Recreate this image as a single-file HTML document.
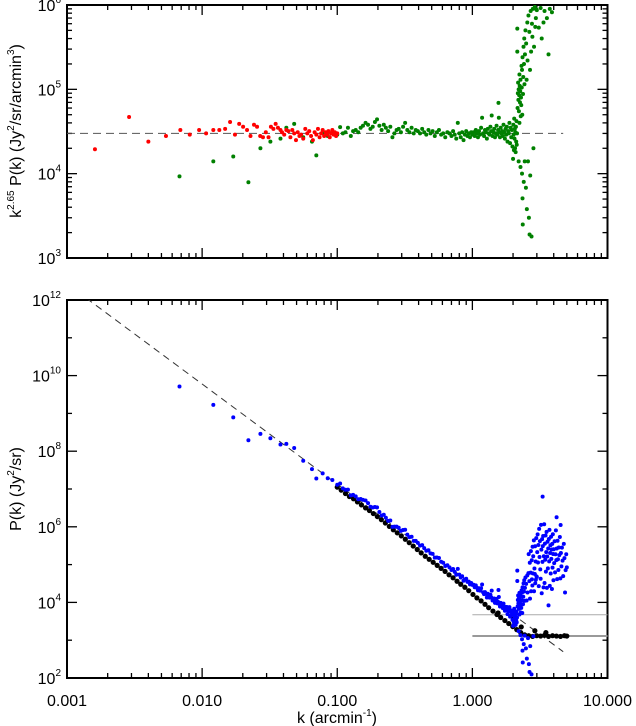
<!DOCTYPE html>
<html><head><meta charset="utf-8">
<style>
html,body{margin:0;padding:0;background:#fff;}
svg{display:block;font-family:"Liberation Sans",Arial,sans-serif;}
</style></head>
<body>
<svg id="chart" width="636" height="726" viewBox="0 0 636 726" xmlns="http://www.w3.org/2000/svg">
</svg>
<script>
// ---------------- DATA ----------------
// red series (top panel), k in arcmin^-1, value in units of 1000 Jy^2/sr/arcmin^3
const redK = [0.00161,0.00288,0.0040,0.0054,0.0069,0.0081,0.0095,0.0107,0.0121,0.0134,0.0148,0.0161,0.0175,0.0188,0.0201,0.0215,0.0228,0.0242,0.0255,0.0269,0.0282,0.0296,0.031,0.0323,0.0337,0.035,0.0364,0.038,0.039,0.0405,0.042,0.0435,0.045,0.0465,0.048,0.0495,0.051,0.0525,0.054,0.056,0.058,0.06,0.062,0.064,0.066,0.068,0.07,0.072,0.074,0.076,0.078,0.08,0.082,0.084,0.086,0.088,0.09,0.092,0.094,0.096,0.098,0.1];
const redV = [19.5,47,24,28,33,29,33,30,33,33,34,41,29,39,36,33,28,38,36,28,27,31,27,36,34,39,35,33,31,29,33,32,27,33,30,25,31,28,29,26,34,30,32,28,25,31,29,34,27,30,33,28,31,29,32,27,30,33,29,31,28,30];
// green series (top panel) / blue (bottom panel = green / k^2.65)
const greenK = [0.0068,0.0121,0.017,0.022,0.027,0.032,0.038,0.042,0.048,0.056,0.065,0.07,0.078,0.085,0.092,0.1,
0.105,0.11,0.115,0.12,0.126,0.131,0.137,0.143,0.149,0.155,0.162,0.169,0.176,0.183,0.19,0.197,0.205,0.213,0.221,0.229,0.238,0.247,0.256,0.265,0.275,0.285,0.296,0.307,0.318,0.33,0.342,0.355,0.368,0.381,0.395,0.41,0.425,0.44,0.456,0.473,0.49,0.508,0.527,0.546,0.566,0.587,0.608,0.63,0.653,0.677,0.7,0.72,0.74,0.76,0.78,0.8,0.82,0.84,0.86,0.88,0.9,0.92,0.94,0.96,0.98,1.0,
1.02,1.04,1.06,1.08,1.10,1.12,1.14,1.16,1.18,1.2,1.22,1.24,1.26,1.28,1.3,1.32,1.34,1.36,1.38,1.39,1.41,1.43,1.45,1.47,1.49,1.51,1.53,1.55,1.56,1.57,1.58,1.6,1.62,1.64,1.66,1.68,1.7,1.72,1.74,1.76,1.78,1.8,1.82,1.84,1.86,1.88,1.9,1.92,1.94,1.96,1.98,2.0,2.01,2.02,2.03,2.04,2.05,2.06,2.07,2.08,2.09,2.1,2.11,2.12,2.13,2.14,
2.15,2.15,2.16,2.17,2.18,2.19,2.2,2.2,2.21,2.22,2.23,2.23,2.24,2.25,2.26,2.27,2.27,2.28,2.29,2.3,2.31,2.32,2.33,2.33,2.34,2.35,2.35,2.36,2.37,2.38,2.39,2.4,2.41,2.42,2.43,2.44,2.45,
2.47,2.49,2.5,2.52,2.53,2.55,2.56,2.58,2.6,2.61,2.62,2.64,2.65,2.66,2.67,2.68,2.7,2.71,2.72,2.74,2.75,2.76,2.78,2.79,2.8,2.82,2.83,2.85,2.86,2.88,2.9,2.91,2.92,2.94,2.95,2.97,2.98,
3.0,3.02,3.04,3.06,3.08,3.1,3.12,3.14,3.16,3.18,3.2,3.22,3.24,3.26,3.28,3.3,3.31,3.32,3.34,3.36,3.38,3.4,3.42,3.44,3.46,3.48,3.5,3.52,3.54,3.56,3.58,3.6,3.62,3.64,3.66,3.68,3.7,3.72,3.74,3.76,3.78,3.8,3.82,3.84,3.86,3.88,3.9,3.92,3.94,3.96,3.98,4.0,4.03,4.06,4.09,4.12,4.15,4.18,4.2,4.21,4.24,4.27,4.3,4.33,4.36,4.4,4.44,4.48,4.5,4.52,4.56,4.6,4.65,4.7,4.75,4.8,4.85,4.9,4.95,5.0];
const greenV = [9.3,14,16,7.9,20,24,26,35,39,27,24,16.5,30,28,31,29,
35.6,30,31,35,28,32,33,31,35,37,40,38,34,36,41,44,37,33,38,35,32,36,27,30,33,34,31,36,40,33,31,35,30,33,32,30,34,31,29,33,30,32,28,31,33,29,30,27,31,30,28,32,29,26,40,30,27,31,25,29,32,28,30,27,31,29,
31,28,33,30,27,32,29,35,46,30,28,33,31,26,34,30,29,36,32,49,28,31,34,27,30,37,29,33,69,46,31,27,35,30,32,28,38,31,26,34,29,36,24,32,30,40,23,35,27,33,21,15,38,29,19,45,26,34,20,31,18,36,24,42,22,30,
525,280,60,90,120,75,100,14,55,85,150,40,110,70,95,130,12,48,80,65,190,105,170,10,50,5.1,240,2.5,88,140,320,8,200,400,115,14,260,
500,6.8,350,130,3.8,620,220,14,750,2400,3.0,480,1.9,1500,170,9.5,850,3200,280,1.8,1900,600,420,4500,900,2600,20,7000,320,1300,950,5200,550,2100,700,9000,880,
870,4000,12000,2200,6500,540,18000,3300,8800,1600,920,25000,5600,400,11000,2800,150000,7400,14000,620,4200,30000,850,9500,3600,16000,1800,6000,21000,700,4800,12000,2400,8200,260,15000,3900,27000,900,6800,11000,2000,19000,5000,9000,820,13000,3100,24000,7300,1500,10000,4400,17000,2600,8000,35000,5800,80000,12000,1900,20000,6600,3500,14000,9000,28000,2300,60000,11000,5000,16000,7500,3000,22000,9500,1200,4800,13000,6000];
// black series (bottom panel), log10 P(k) [Jy^2/sr]
const blackK = [0.10,0.107,0.115,0.123,0.132,0.141,0.151,0.162,0.173,0.185,0.198,0.212,0.227,0.243,0.26,0.278,0.298,0.319,0.341,0.365,0.391,0.418,0.448,0.479,0.513,0.549,0.587,0.628,0.672,0.72,0.77,0.82,0.88,0.94,1.01,1.08,1.16,1.24,1.32,1.42,1.52,1.62,1.74,1.86,1.99,2.13,2.28,2.44,2.61,2.79,2.99,3.2,3.42,3.66,3.92,4.19,4.49,4.8,5.0,1.55,1.98,2.05,2.3,2.9,3.5];
const blackLogP = [7.05,6.97,6.88,6.80,6.74,6.66,6.58,6.50,6.43,6.35,6.27,6.19,6.10,6.01,5.92,5.84,5.76,5.67,5.58,5.49,5.40,5.31,5.22,5.14,5.06,4.98,4.90,4.82,4.73,4.65,4.56,4.48,4.40,4.31,4.21,4.12,4.04,3.95,3.86,3.77,3.68,3.60,3.52,3.44,3.36,3.28,3.20,3.14,3.12,3.10,3.12,3.11,3.13,3.10,3.12,3.11,3.10,3.12,3.11,3.72,3.63,3.55,3.35,3.25,3.2];
// fit: k^2.65 P(k) = 3.0e4 ; horizontal reference levels
const fitAmp = 3.0e4;
const fitSlope = 2.65;
const fitKRange = [0.001, 4.7];
const refLevels = [4700, 1290];
const xTickLabels = ["0.001","0.010","0.100","1.000","10.000"];
const topYExps = [3,4,5,6];
const botYExps = [2,4,6,8,10,12];

// ---------------- AXES ----------------
const X0=67, X1=607.5;
const TOP={y0:5,y1:258,lo:3,hi:6};
const BOT={y0:300,y1:678,lo:2,hi:12};
function xs(k){return X0+(Math.log10(k)+3)/4*(X1-X0);}
function ysTop(v){return TOP.y1-(Math.log10(v)-TOP.lo)/(TOP.hi-TOP.lo)*(TOP.y1-TOP.y0);}
function ysBot(v){return BOT.y1-(Math.log10(v)-BOT.lo)/(BOT.hi-BOT.lo)*(BOT.y1-BOT.y0);}

const svg=document.getElementById('chart');
const NS='http://www.w3.org/2000/svg';
function mk(tag,attrs,parent){const e=document.createElementNS(NS,tag);for(const a in attrs)e.setAttribute(a,attrs[a]);(parent||svg).appendChild(e);return e;}

// clip paths
const defs=mk('defs',{});
const c1=mk('clipPath',{id:'clipTop'},defs);mk('rect',{x:X0,y:TOP.y0,width:X1-X0,height:TOP.y1-TOP.y0},c1);
const c2=mk('clipPath',{id:'clipBot'},defs);mk('rect',{x:X0,y:BOT.y0,width:X1-X0,height:BOT.y1-BOT.y0},c2);

function panelAxes(P,name,yfun,exps,minorMode){
  const g=mk('g',{});
  
  
  // x ticks (top and bottom)
  for(let d=-3;d<1;d++){
    for(let m=1;m<=9;m++){
      const k=m*Math.pow(10,d);const x=xs(k);const L=m===1?10:5;
      mk('line',{x1:x,y1:P.y1,x2:x,y2:P.y1-L,stroke:'#000','stroke-width':1.3},g);
      mk('line',{x1:x,y1:P.y0,x2:x,y2:P.y0+L,stroke:'#000','stroke-width':1.3},g);
    }
  }
  // y ticks
  if(minorMode==='log'){
    for(let e=P.lo;e<P.hi;e++)for(let m=1;m<=9;m++){
      const y=yfun(m*Math.pow(10,e));const L=m===1?10:5;
      mk('line',{x1:X0,y1:y,x2:X0+L,y2:y,stroke:'#000','stroke-width':1.3},g);
      mk('line',{x1:X1,y1:y,x2:X1-L,y2:y,stroke:'#000','stroke-width':1.3},g);
    }
  } else {
    for(let e=P.lo;e<=P.hi;e++){
      const y=yfun(Math.pow(10,e));const L=(e%2===0)?10:5;
      mk('line',{x1:X0,y1:y,x2:X0+L,y2:y,stroke:'#000','stroke-width':1.3},g);
      mk('line',{x1:X1,y1:y,x2:X1-L,y2:y,stroke:'#000','stroke-width':1.3},g);
    }
  }
  mk('rect',{x:X0,y:P.y0,width:X1-X0,height:P.y1-P.y0,fill:'none',stroke:'#000','stroke-width':2},g);
  exps.forEach(e=>{
    const y=yfun(Math.pow(10,e));
    const t=mk('text',{x:X0-6,y:y+6,'text-anchor':'end','font-size':16,fill:'#000'},g);
    
    
    t.textContent='10';
    const s=mk('tspan',{dy:-8,'font-size':10},t);s.textContent=String(e);
  });
}
panelAxes(TOP,'top-panel',ysTop,topYExps,'log');
panelAxes(BOT,'bottom-panel',ysBot,botYExps,'odd');

// x tick labels
xTickLabels.forEach((lab,i)=>{
  const t=mk('text',{x:xs(Math.pow(10,i-3)),y:706,'text-anchor':'middle','font-size':16,fill:'#000'});
  
  
  t.textContent=lab;
});
// axis titles
let t=mk('text',{x:337,y:723,'text-anchor':'middle','font-size':16,fill:'#000'});


t.textContent='k (arcmin';let s=mk('tspan',{dy:-7,'font-size':10},t);s.textContent='-1';s=mk('tspan',{dy:7},t);s.textContent=')';

t=mk('text',{x:0,y:0,'text-anchor':'middle','font-size':16,fill:'#000',transform:'translate(21,131) rotate(-90)'});


t.textContent='k';s=mk('tspan',{dy:-7,'font-size':10},t);s.textContent='2.65';
s=mk('tspan',{dy:7},t);s.textContent=' P(k) (Jy';s=mk('tspan',{dy:-7,'font-size':10},t);s.textContent='2';
s=mk('tspan',{dy:7},t);s.textContent='/sr/arcmin';s=mk('tspan',{dy:-7,'font-size':10},t);s.textContent='3';
s=mk('tspan',{dy:7},t);s.textContent=')';

t=mk('text',{x:0,y:0,'text-anchor':'middle','font-size':16,fill:'#000',transform:'translate(21,489) rotate(-90)'});


t.textContent='P(k) (Jy';s=mk('tspan',{dy:-7,'font-size':10},t);s.textContent='2';
s=mk('tspan',{dy:7},t);s.textContent='/sr)';

// ---------- top panel marks ----------
const gTop=mk('g',{'clip-path':'url(#clipTop)'});


let ln=mk('line',{x1:xs(0.001),y1:ysTop(fitAmp),x2:xs(fitKRange[1]),y2:ysTop(fitAmp),stroke:'#555','stroke-width':1,'stroke-dasharray':'8,5'},gTop);


greenK.forEach((k,i)=>{
  const c=mk('circle',{cx:xs(k),cy:ysTop(greenV[i]*1000),r:2,fill:'#008000'},gTop);
  
  
});
redK.forEach((k,i)=>{
  const c=mk('circle',{cx:xs(k),cy:ysTop(redV[i]*1000),r:2,fill:'#ff0000'},gTop);
  
  
});

// ---------- bottom panel marks ----------
const gBot=mk('g',{'clip-path':'url(#clipBot)'});


ln=mk('line',{x1:xs(fitKRange[0]),y1:ysBot(fitAmp*Math.pow(fitKRange[0],-fitSlope)),x2:xs(fitKRange[1]),y2:ysBot(fitAmp*Math.pow(fitKRange[1],-fitSlope)),stroke:'#333','stroke-width':1,'stroke-dasharray':'7,5'},gBot);


ln=mk('line',{x1:xs(1),y1:ysBot(refLevels[0]),x2:X1,y2:ysBot(refLevels[0]),stroke:'#aaa','stroke-width':1},gBot);


ln=mk('line',{x1:xs(1),y1:ysBot(refLevels[1]),x2:X1,y2:ysBot(refLevels[1]),stroke:'#999','stroke-width':2},gBot);


blackK.forEach((k,i)=>{
  const c=mk('circle',{cx:xs(k),cy:ysBot(Math.pow(10,blackLogP[i])),r:2.6,fill:'#000'},gBot);
  
  
});
greenK.forEach((k,i)=>{
  const P=greenV[i]*1000/Math.pow(k,fitSlope);
  const c=mk('circle',{cx:xs(k),cy:ysBot(P),r:2,fill:'#0000ff'},gBot);
  
  
});
</script>
</body></html>
